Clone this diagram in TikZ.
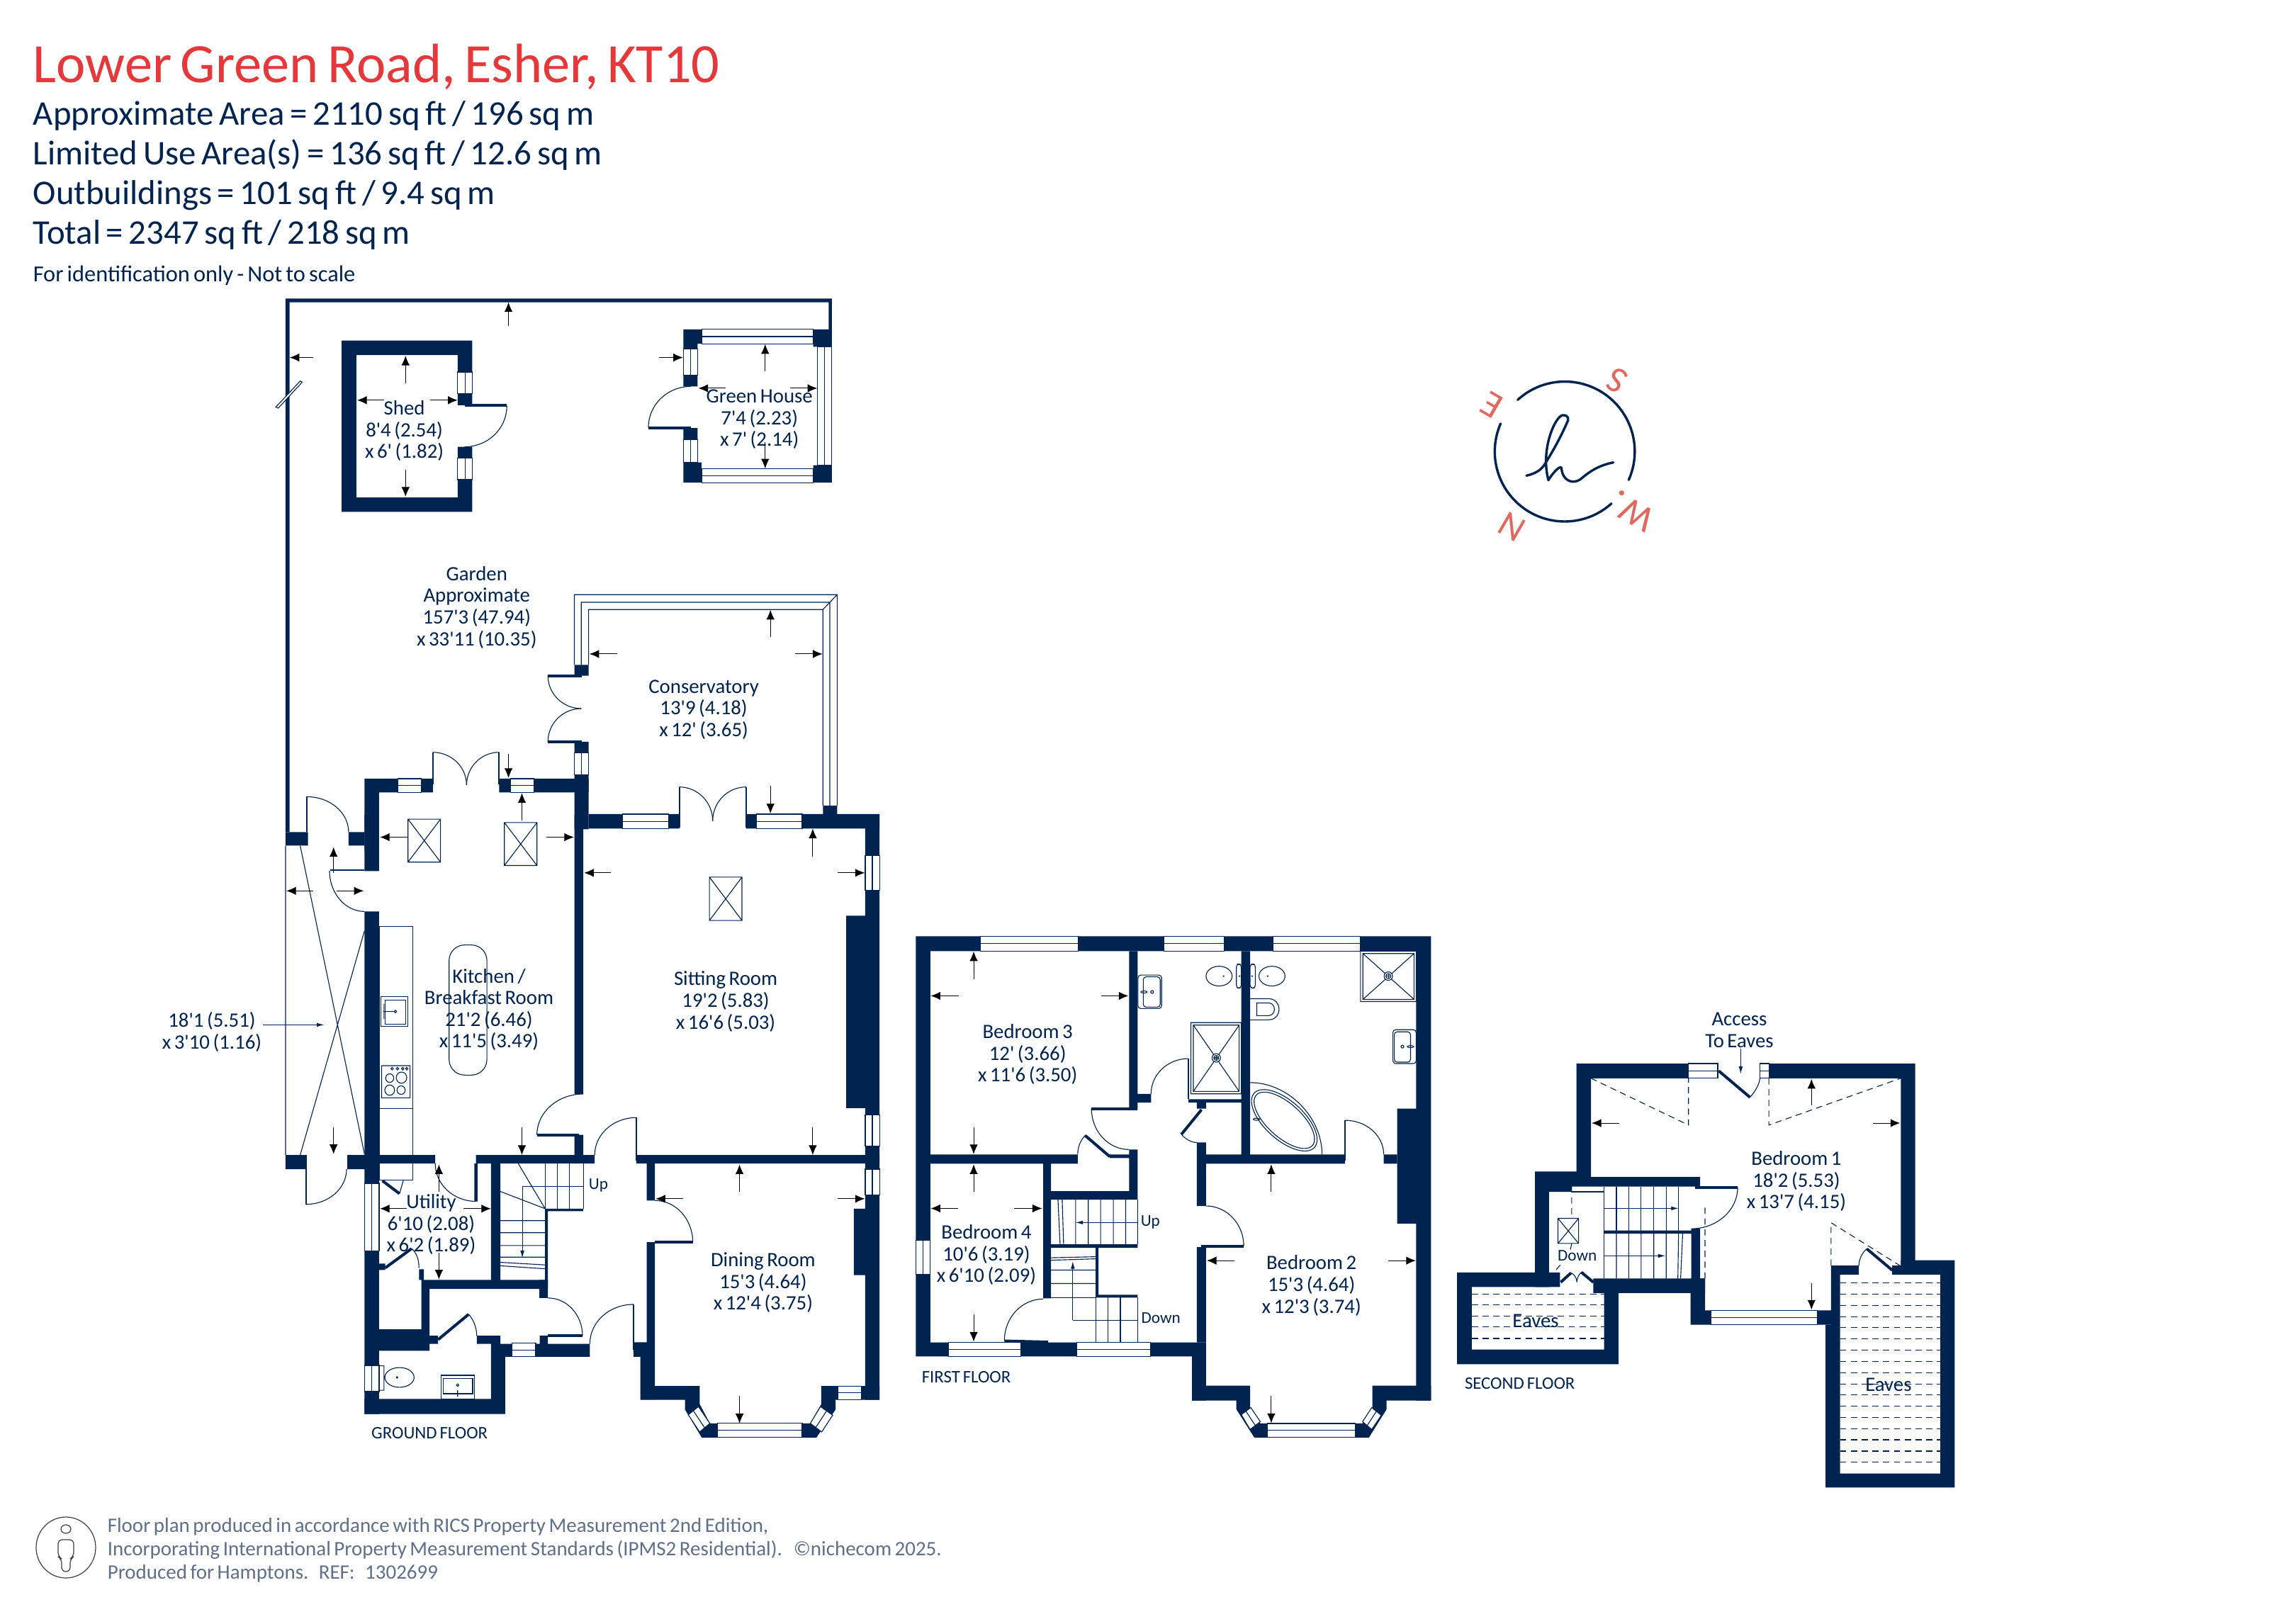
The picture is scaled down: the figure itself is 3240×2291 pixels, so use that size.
\documentclass[tikz,border=0pt]{standalone}
\usepackage{fontspec}
\usetikzlibrary{arrows.meta}
\newfontfamily\pts[WordSpace=0.7]{Carlito}
\definecolor{navy}{HTML}{00234F}
\definecolor{titlered}{HTML}{E5383B}
\definecolor{coral}{HTML}{E0695F}
\definecolor{foot}{HTML}{5F7088}
\tikzset{
 wall/.style={fill=navy,draw=none},
 ln/.style={draw=navy,line width=.28pt},
 door/.style={draw=navy,line width=1pt},
 win/.style={draw=navy,line width=.28pt,fill=white},
 dsh/.style={draw=navy,line width=.28pt,dash pattern=on 2.2pt off 1.6pt},
 dim/.style={draw=black,line width=.25pt,-{Latex[length=3.4pt,width=2.9pt]}},
 flow/.style={draw=navy,line width=.25pt,-{Latex[length=2.6pt,width=1.4pt]}},
 lbl/.style={font=\pts\fontsize{7.2}{7.65}\selectfont,align=center,inner sep=0pt,text=navy,yshift=-.4pt},
 fix/.style={font=\pts\fontsize{5.8}{7}\selectfont,inner sep=0pt,text=navy},
 caps/.style={font=\pts\fontsize{6.2}{7}\selectfont,inner sep=0pt,text=navy},
 head/.style={font=\pts\fontsize{12.2}{14}\selectfont,align=left,inner sep=0pt,text=navy,anchor=north west},
 logo/.style={draw=navy,line width=.85pt,line cap=round,line join=round},
 z1/.style={shift={(380,400)},x=.14351pt,y=-.12755pt},
 z2/.style={shift={(380,1150)},x=.14351pt,y=-.15152pt},
 z3/.style={shift={(1280,1300)},x=.12438pt,y=-.12438pt},
 z4/.style={shift={(2040,1400)},x=.12118pt,y=-.11798pt},
 z5/.style={shift={(2060,500)},x=.08333pt,y=-.08333pt},
}
\newcommand{\arr}[4]{\draw[dim] (#1,#2) -- (#3,#4);}
\newcommand{\qh}[4]{\pgfmathsetmacro\qax{#1+.552*(#3-#1)}\pgfmathsetmacro\qby{#4-.552*(#4-#2)}\draw[ln] (#1,#2) .. controls (\qax,#2) and (#3,\qby) .. (#3,#4);}
\newcommand{\wh}[4]{\draw[win] (#1,#2) rectangle (#3,#4);\pgfmathsetmacro\qm{(#2+#4)/2}\draw[ln] (#1,\qm) -- (#3,\qm);}
\newcommand{\wv}[4]{\draw[win] (#1,#2) rectangle (#3,#4);\pgfmathsetmacro\qm{(#1+#3)/2}\draw[ln] (\qm,#2) -- (\qm,#4);}
\newcommand{\sky}[4]{\draw[ln] (#1,#2) rectangle (#3,#4) (#1,#2) -- (#3,#4) (#1,#4) -- (#3,#2);}
\begin{document}
\begin{tikzpicture}[x=.25pt,y=-.25pt]
\useasboundingbox (0,0) rectangle (3240,2291);
\fill[white] (0,0) rectangle (3240,2291);
% header
\node[anchor=west,inner sep=0pt,text=titlered,font=\pts\fontsize{19.6}{22}\selectfont] (title) at (46,94) {Lower Green Road, Esher, KT10};
\node[head] (areas) at (46,142) {Approximate Area = 2110 sq ft / 196 sq m\\Limited Use Area(s) = 136 sq ft / 12.6 sq m\\Outbuildings = 101 sq ft / 9.4 sq m\\Total = 2347 sq ft / 218 sq m};
\node[anchor=west,inner sep=0pt,text=navy,font=\pts\fontsize{8.1}{9}\selectfont] (idonly) at (46,389) {For identification only - Not to scale};
% ---------------- outbuildings, garden, conservatory
\begin{scope}[z1]
\fill[wall] (40,42) rectangle (1383,52) (40,42) rectangle (50,1518) (1375,42) rectangle (1383,128);
\draw[win] (16,342) -- (76,270) -- (81,273) -- (22,345) -- cycle;
\arr{588}{118}{588}{52} \arr{108}{205}{50}{205}
% shed
\fill[wall] (178,158) rectangle (499,198) (178,158) rectangle (214,632) (178,592) rectangle (499,632) (463,158) rectangle (499,337) (463,452) rectangle (499,632);
\wv{463}{245}{499}{305} \wv{463}{483}{499}{543}
\draw[door] (480,337) -- (584,337);
\qh{480}{452}{584}{339}
\node[lbl] (shed) at (332,405) {Shed\\8'4 (2.54)\\x 6' (1.82)};
\arr{335}{277}{335}{200} \arr{335}{515}{335}{590} \arr{282}{323}{216}{323} \arr{395}{323}{463}{323}
% green house
\wh{1063}{127}{1337}{167} \wh{1063}{513}{1337}{551} \wv{1348}{175}{1383}{503} \wv{1018}{182}{1053}{253} \wv{1018}{433}{1053}{495}
\fill[wall] (1018,127) rectangle (1063,167) (1018,127) rectangle (1053,182) (1337,127) rectangle (1383,175) (1018,495) rectangle (1063,551) (1337,503) rectangle (1383,551) (1018,253) rectangle (1053,285) (1018,400) rectangle (1053,433);
\draw[door] (932,400) -- (1036,400);
\qh{1036}{285}{932}{398}
\node[lbl] (greenhouse) at (1205,373) {Green House\\7'4 (2.23)\\x 7' (2.14)};
\arr{1219}{244}{1219}{168} \arr{1219}{440}{1219}{512} \arr{1122}{290}{1055}{290} \arr{1280}{290}{1347}{290} \arr{958}{205}{1017}{205}
\node[lbl] (garden) at (510,893) {Garden\\Approximate\\157'3 (47.94)\\x 33'11 (10.35)};
% conservatory
\draw[ln] (750,1055) -- (750,861) -- (1396,861) -- (1396,1445) (767,1055) -- (767,882) -- (1378,882) -- (1378,1445) (785,1055) -- (785,902) -- (1361,902) -- (1361,1445) (1361,902) -- (1396,861);
\fill[wall] (750,1055) rectangle (785,1085) (750,1268) rectangle (785,1298) (1361,1445) rectangle (1396,1468) (750,1360) rectangle (785,1510);
\draw[door] (685,1085) -- (768,1085) (685,1268) -- (768,1268);
\wv{750}{1298}{785}{1360}
\qh{767}{1176}{685}{1085} \qh{767}{1176}{685}{1268}
\node[lbl] (conservatory) at (1068,1176) {Conservatory\\13'9 (4.18)\\x 12' (3.65)};
\arr{1232}{978}{1232}{903} \arr{855}{1025}{787}{1025} \arr{1292}{1025}{1360}{1025} \arr{1232}{1390}{1232}{1466}
% sitting room top wall
\fill[wall] (785,1468) rectangle (1008,1508) (1172,1468) rectangle (1500,1508);
\wh{868}{1468}{982}{1508} \wh{1198}{1468}{1310}{1508}
\draw[ln,line width=.5pt] (1008,1393) -- (1008,1505) (1172,1393) -- (1172,1505);
\qh{1008}{1393}{1090}{1487} \qh{1172}{1393}{1090}{1487}
% kitchen top wall
\fill[wall] (234,1370) rectangle (402,1408) (565,1370) rectangle (785,1408) (234,1370) rectangle (270,1568);
\wh{316}{1370}{373}{1408} \wh{593}{1370}{651}{1408}
\draw[ln,line width=.5pt] (402,1297) -- (402,1385) (565,1297) -- (565,1385);
\qh{402}{1297}{485}{1388} \qh{565}{1297}{485}{1388}
\arr{588}{1302}{588}{1368} \arr{621}{1485}{621}{1410}
% passage door
\fill[wall] (40,1518) rectangle (95,1555) (195,1518) rectangle (234,1555);
\draw[ln,line width=.5pt] (93,1420) -- (93,1518);
\qh{93}{1420}{195}{1518}
\end{scope}
% ---------------- ground floor
\begin{scope}[z2]
\draw[ln] (40,72) -- (40,792) (76,72) -- (234,790) (234,270) -- (76,792);
\arr{108}{177}{42}{177} \arr{165}{177}{232}{177} \arr{158}{135}{158}{75} \arr{158}{727}{158}{790}
\draw[flow,draw=navy] (-15,489) -- (135,489);
\draw[door,line width=.5pt] (150,129) -- (234,129);
\qh{234}{225}{148}{130}
\fill[wall] (234,0) rectangle (270,131) (234,225) rectangle (270,1395) (40,792) rectangle (90,825) (192,792) rectangle (234,825);
\draw[ln,line width=.5pt] (90,792) -- (90,907);
\qh{90}{907}{190}{825}
% kitchen fittings
\draw[ln] (270,260) rectangle (353,684) (270,684) rectangle (353,850);
\draw[ln] (274,423) rectangle (341,493) (285,432) rectangle (335,488);
\draw[ln] (280,458) -- (308,458) (310,458) circle[radius=3] (282,440) -- (282,475);
\draw[ln] (276,584) rectangle (346,659) (296,613) circle[radius=10] (325,612) circle[radius=13] (296,641) circle[radius=12] (324,641) circle[radius=10];
\draw[ln] (302,591) circle[radius=3] (315,591) circle[radius=3] (328,591) circle[radius=3] (338,591) circle[radius=3];
\draw[ln,rounded corners=5.5pt] (442,303) rectangle (535,606);
\sky{341}{10}{421}{110} \sky{578}{18}{658}{118} \sky{1082}{145}{1162}{246}
\node[lbl] (kitchen) at (540,451) {Kitchen /\\Breakfast Room\\21'2 (6.46)\\x 11'5 (3.49)};
\arr{340}{52}{272}{52} \arr{681}{52}{749}{52} \arr{621}{727}{621}{792}
% main walls
\fill[wall] (750,0) rectangle (772,650) (750,745) rectangle (772,792) (234,792) rectangle (408,812) (508,792) rectangle (800,812) (902,792) rectangle (1500,812);
\draw[door] (658,745) -- (762,745);
\qh{772}{650}{658}{745}
\draw[ln,line width=.5pt] (902,705) -- (902,805);
\qh{902}{705}{800}{792}
\fill[wall] (1465,0) rectangle (1500,1362) (1418,235) rectangle (1500,683) (1437,917) rectangle (1500,1072);
\wv{1465}{95}{1500}{175} \wv{1465}{698}{1500}{772} \wv{1465}{825}{1500}{885}
\node[lbl] (sitting) at (1122,432) {Sitting Room\\19'2 (5.83)\\x 16'6 (5.03)};
\arr{840}{135}{774}{135} \arr{1397}{135}{1464}{135} \arr{1336}{97}{1336}{32} \arr{1336}{727}{1336}{792}
% dining
\fill[wall] (928,812) rectangle (948,898) (928,995) rectangle (948,1240) (895,1228) rectangle (948,1262) (912,1262) rectangle (948,1362);
\draw[door] (948,995) -- (1041,995);
\qh{948}{898}{1041}{995}
\fill[wall] (912,1362) -- (1022,1362) -- (1022,1385) -- (1063,1450) -- (1102,1450) -- (1102,1417) -- (1083,1417) -- (1058,1372) -- (1058,1330) -- (948,1330) -- (948,1362) -- cycle;
\fill[wall] (1500,1362) -- (1392,1362) -- (1392,1385) -- (1345,1450) -- (1310,1450) -- (1310,1417) -- (1330,1417) -- (1357,1372) -- (1357,1330) -- (1500,1330) -- cycle;
\draw[win] (1030,1397) -- (1055,1378) -- (1083,1417) -- (1058,1437) -- cycle;
\draw[ln] (1042,1387) -- (1070,1427);
\draw[win] (1355,1378) -- (1385,1398) -- (1358,1437) -- (1330,1417) -- cycle;
\draw[ln] (1370,1388) -- (1343,1427);
\wh{1102}{1417}{1310}{1450} \wh{1398}{1330}{1455}{1362}
\node[lbl] (dining) at (1214,1087) {Dining Room\\15'3 (4.64)\\x 12'4 (3.75)};
\arr{1156}{877}{1156}{814} \arr{1017}{894}{950}{894} \arr{1397}{894}{1464}{894} \arr{1156}{1353}{1156}{1417}
% utility
\fill[wall] (545,812) rectangle (568,1083) (504,812) rectangle (512,900) (374,1083) rectangle (685,1104) (374,1083) rectangle (394,1248) (270,1198) rectangle (394,1248) (394,1213) rectangle (415,1232) (270,1045) rectangle (285,1060) (368,1058) rectangle (380,1083);
\qh{508}{900}{408}{812}
\wv{234}{858}{270}{1015}
\node[lbl] (utility) at (398,951) {Utility\\6'10 (2.08)\\x 6'2 (1.89)};
\arr{417}{878}{417}{814} \arr{417}{1020}{417}{1082} \arr{338}{917}{272}{917} \arr{477}{917}{545}{917}
\draw[door] (278,852) -- (320,882);
\draw[ln] (320,882) -- (330,850);
\draw[door] (285,1055) -- (350,1010);
\draw[ln] (350,1010) .. controls (362,1020) and (368,1035) .. (368,1055);
% stairs
\fill[wall] (678,917) rectangle (772,923) (678,917) rectangle (685,1104) (664,1083) rectangle (685,1125);
\draw[ln] (678,812) -- (678,917) (708,812) -- (708,917) (738,812) -- (738,917) (772,812) -- (772,917);
\draw[ln] (612,812) -- (678,917) (568,877) -- (678,917);
\draw[ln] (568,945) -- (678,945) (568,973) -- (678,973) (568,1003) -- (678,1003) (568,1030) -- (678,1030) (568,1042) -- (678,1048) (568,1050) -- (678,1057);
\draw[ln] (772,865) -- (622,865);
\draw[flow] (622,865) -- (622,1032);
\node[fix] (upg) at (809,862) {Up};
% hall, WC
\draw[door] (685,1213) -- (770,1213);
\qh{685}{1125}{770}{1213}
\fill[wall] (510,1213) rectangle (568,1232) (545,1232) rectangle (580,1395) (234,1360) rectangle (580,1395) (545,1232) rectangle (597,1262) (655,1232) rectangle (788,1262) (665,1213) rectangle (685,1232);
\wh{597}{1230}{655}{1262} \wv{234}{1282}{270}{1343}
\draw[door] (415,1222) -- (490,1163);
\draw[ln] (490,1163) .. controls (502,1175) and (510,1195) .. (510,1213);
\draw[ln,line width=.5pt] (895,1140) -- (895,1245);
\qh{895}{1140}{788}{1232}
\draw[ln] (270,1283) rectangle (282,1340) (320,1310) ellipse[x radius=36,y radius=23];
\fill[navy] (314,1310) circle[radius=3];
\draw[ln] (423,1305) rectangle (505,1360) (427,1313) rectangle (500,1348);
\draw[ln] (463,1328) circle[radius=3] (463,1340) -- (463,1355);
\node[caps] (ground) at (394,1440) {GROUND FLOOR};
\end{scope}
\node[lbl] (passage) at (299,1455) {18'1 (5.51)\\x 3'10 (1.16)};
% ---------------- first floor
\begin{scope}[z3]
\fill[wall] (25,43) rectangle (1486,85) (25,43) rectangle (66,1235) (25,1195) rectangle (848,1235) (1444,43) rectangle (1486,1360) (1390,532) rectangle (1486,858) (808,1195) rectangle (848,1360);
\fill[wall] (808,1360) -- (934,1360) -- (934,1385) -- (985,1465) -- (1022,1465) -- (1022,1425) -- (1002,1425) -- (973,1380) -- (973,1318) -- (848,1318) -- (808,1318) -- cycle;
\fill[wall] (1486,1360) -- (1360,1360) -- (1360,1385) -- (1310,1465) -- (1272,1465) -- (1272,1425) -- (1292,1425) -- (1320,1380) -- (1320,1318) -- (1486,1318) -- cycle;
\draw[win] (948,1400) -- (975,1380) -- (1002,1420) -- (973,1442) -- cycle;
\draw[ln] (961,1390) -- (988,1431);
\draw[win] (1318,1380) -- (1345,1402) -- (1318,1442) -- (1292,1420) -- cycle;
\draw[ln] (1331,1391) -- (1305,1431);
\wh{208}{43}{486}{85} \wh{729}{43}{899}{85} \wh{1038}{43}{1285}{85} \wv{25}{905}{66}{1002} \wh{118}{1195}{322}{1235} \wh{482}{1195}{690}{1235} \wh{1022}{1425}{1272}{1465}
% interior walls
\fill[wall] (630,85) rectangle (654,532) (948,85) rectangle (973,662) (66,662) rectangle (484,688) (630,648) rectangle (654,790) (386,672) rectangle (408,1070) (386,766) rectangle (654,790) (575,662) rectangle (630,672) (654,490) rectangle (692,515) (798,505) rectangle (948,515) (822,515) rectangle (848,532) (822,628) rectangle (848,808) (848,662) rectangle (1242,688) (1352,662) rectangle (1390,688) (822,925) rectangle (848,1195) (408,917) rectangle (654,927) (535,927) rectangle (543,1068) (535,1060) rectangle (654,1068);
\draw[door] (523,532) -- (654,532);
\qh{630}{648}{523}{532}
\draw[door] (505,608) -- (575,668);
\draw[ln] (505,608) .. controls (492,622) and (484,640) .. (484,662);
\draw[ln,line width=.5pt] (798,390) -- (798,505);
\qh{798}{390}{692}{490}
\draw[door] (835,535) -- (778,605);
\draw[ln] (778,605) .. controls (790,618) and (805,628) .. (822,628);
\draw[ln,line width=.5pt] (1242,565) -- (1242,680);
\qh{1242}{565}{1352}{662}
\draw[door] (835,923) -- (955,923);
\qh{848}{808}{955}{922}
\draw[door] (276,1191) -- (400,1194);
\qh{386}{1072}{276}{1190}
% stairs
\draw[ln] (428,790) -- (434,917) (440,790) -- (444,917) (478,790) -- (478,917) (514,790) -- (514,917) (549,790) -- (549,917) (585,790) -- (585,917) (620,790) -- (620,917) (654,790) -- (654,917);
\draw[ln] (654,855) -- (510,855);
\draw[flow] (510,855) -- (478,855);
\draw[ln] (408,955) -- (535,952) (408,962) -- (535,958) (408,990) -- (535,990) (408,1028) -- (535,1028) (408,1068) -- (535,1068);
\draw[ln] (535,1068) -- (535,1195) (570,1068) -- (570,1195) (605,1068) -- (605,1195) (654,1068) -- (654,1195);
\draw[ln] (654,1132) -- (470,1132);
\draw[flow] (470,1132) -- (470,965);
\node[fix] (upf) at (690,854) {Up};
\node[fix] (downf) at (720,1126) {Down};
% fittings
\draw[ln,rounded corners=1pt] (655,153) rectangle (722,248) (670,158) rectangle (718,244);
\draw[ln] (672,201) ellipse[x radius=9,y radius=3] (695,201) circle[radius=4];
\draw[ln] (885,156) ellipse[x radius=37,y radius=28] (1035,156) ellipse[x radius=37,y radius=28];
\draw[ln,fill=white,rounded corners=1pt] (934,122) rectangle (948,190) (973,122) rectangle (988,190);
\fill[navy] (898,156) circle[radius=2.5] (943,156) circle[radius=2.5] (979,156) circle[radius=2.5] (1023,156) circle[radius=2.5];
\draw[ln] (973,220) -- (1025,220) .. controls (1045,220) and (1055,235) .. (1055,250) .. controls (1055,265) and (1045,280) .. (1025,280) -- (973,280);
\draw[ln] (992,232) -- (1025,232) .. controls (1035,232) and (1042,240) .. (1042,250) .. controls (1042,260) and (1035,268) .. (1025,268) -- (992,268) -- cycle;
\draw[ln] (805,288) rectangle (948,490) (812,295) rectangle (942,483) (812,295) -- (942,483) (812,483) -- (942,295);
\draw[ln,fill=white] (877,388) circle[radius=12] (877,388) circle[radius=7];
\draw[ln] (870,388) -- (884,388) (877,381) -- (877,395);
\draw[ln] (1286,85) rectangle (1444,228) (1293,92) rectangle (1438,222) (1293,92) -- (1438,222) (1293,222) -- (1438,92);
\draw[ln,fill=white] (1365,156) circle[radius=12] (1365,156) circle[radius=7];
\draw[ln] (1358,156) -- (1372,156) (1365,149) -- (1365,163);
\draw[ln,rounded corners=1pt] (1444,308) rectangle (1378,404) (1382,314) rectangle (1428,400);
\draw[ln] (1428,356) ellipse[x radius=9,y radius=3] (1405,356) circle[radius=4];
\draw[ln] (973,458) .. controls (1080,458) and (1177,555) .. (1177,662);
\draw[ln] plot[domain=0:360,samples=73,smooth cycle] ({1070+115*cos(\x)*cos(42)-55*sin(\x)*sin(42)},{565+115*cos(\x)*sin(42)+55*sin(\x)*cos(42)});
\draw[ln] plot[domain=0:360,samples=73,smooth cycle] ({1070+107*cos(\x)*cos(42)-48*sin(\x)*sin(42)},{565+107*cos(\x)*sin(42)+48*sin(\x)*cos(42)});
\draw[ln] (991,562) ellipse[x radius=9,y radius=3];
\node[lbl] (bed3) at (342,375) {Bedroom 3\\12' (3.66)\\x 11'6 (3.50)};
\node[lbl] (bed4) at (225,944) {Bedroom 4\\10'6 (3.19)\\x 6'10 (2.09)};
\node[lbl] (bed2) at (1147,1031) {Bedroom 2\\15'3 (4.64)\\x 12'3 (3.74)};
\node[caps] (first) at (168,1294) {FIRST FLOOR};
\arr{189}{165}{189}{86} \arr{146}{212}{67}{212} \arr{550}{212}{628}{212} \arr{189}{585}{189}{661}
\arr{189}{767}{189}{690} \arr{145}{815}{67}{815} \arr{304}{815}{383}{815} \arr{189}{1116}{189}{1193}
\arr{1033}{767}{1033}{690} \arr{928}{963}{850}{963} \arr{1365}{963}{1443}{963} \arr{1033}{1347}{1033}{1424}
\end{scope}
% ---------------- second floor
\begin{scope}[z4]
\fill[wall] (381,214) rectangle (707,258) (941,214) rectangle (1367,258) (1325,214) rectangle (1367,845) (381,214) rectangle (423,582) (260,537) rectangle (423,582) (260,537) rectangle (301,882) (260,582) rectangle (367,598) (423,553) rectangle (741,582) (715,708) rectangle (741,900) (461,713) rectangle (715,723) (741,857) rectangle (755,900);
\fill[wall] (33,839) rectangle (333,882) (33,839) rectangle (76,1113) (33,1069) rectangle (503,1113) (461,857) rectangle (503,1113) (430,857) rectangle (755,900) (713,857) rectangle (755,995) (713,952) rectangle (1122,995);
\fill[wall] (1122,818) rectangle (1148,995) (1122,818) rectangle (1203,845) (1300,818) rectangle (1367,845) (1106,995) rectangle (1148,1482) (1106,1440) rectangle (1482,1482) (1440,802) rectangle (1482,1482) (1325,802) rectangle (1482,845);
\wh{707}{214}{792}{258} \wh{915}{214}{941}{258} \wh{772}{952}{1082}{995}
\draw[door] (795,236) -- (886,315);
\draw[ln] (886,315) .. controls (902,295) and (912,280) .. (915,258);
\draw[door] (727,585) -- (850,585);
\qh{715}{708}{850}{585}
\draw[door] (1226,768) -- (1300,832);
\draw[ln] (1226,768) .. controls (1212,780) and (1203,800) .. (1203,818);
\draw[door] (335,868) -- (365,840) (430,868) -- (395,838);
\draw[ln] (365,840) .. controls (375,845) and (382,855) .. (382,868) (395,838) .. controls (388,845) and (382,855) .. (382,868);
% stairs
\draw[ln] (461,582) -- (461,857) (497,582) -- (497,713) (533,582) -- (533,713) (569,582) -- (569,713) (606,582) -- (606,713) (642,582) -- (642,713) (678,582) -- (678,713);
\draw[ln] (497,723) -- (497,857) (533,723) -- (533,857) (569,723) -- (569,857) (606,723) -- (606,857) (642,723) -- (642,857) (678,723) -- (676,857) (690,723) -- (684,857);
\draw[flow] (461,647) -- (678,647);
\draw[flow] (461,789) -- (640,789);
\draw[ln,line width=.6pt] (367,597) -- (461,597);
\sky{327}{677}{387}{752}
% dashed
\draw[dsh] (423,258) -- (707,398) -- (707,258) (941,258) -- (941,398) -- (1325,258) (367,582) -- (367,677) (367,752) -- (360,785) (301,855) -- (335,815) (755,645) -- (755,857) (1122,818) -- (1122,690) -- (1322,818);
\foreach \yy in {903,936,969,1002,1036} {\draw[dsh] (76,\yy) -- (461,\yy);}
\foreach \yy in {870,904,937,971,1004,1038,1071,1105,1138,1172,1205,1239,1272,1306,1339,1373,1406} {\draw[dsh] (1148,\yy) -- (1440,\yy);}
\node[lbl] (access) at (855,111) {Access\\To Eaves};
\draw[flow,draw=navy] (859,170) -- (859,245);
\node[lbl] (bed1) at (1021,563) {Bedroom 1\\18'2 (5.53)\\x 13'7 (4.15)};
\node[fix] (downs) at (383,788) {Down};
\node[lbl] (eaves1) at (262,980) {Eaves};
\node[lbl] (eaves2) at (1289,1172) {Eaves};
\node[caps] (second) at (216,1171) {SECOND FLOOR};
\arr{1065}{340}{1065}{260} \arr{505}{392}{425}{392} \arr{1243}{392}{1323}{392} \arr{1065}{870}{1065}{950}
\end{scope}
% ---------------- logo
\begin{scope}[z5]
\draw[logo] (245,193) arc[start angle=-132.4,end angle=24,radius=296];
\draw[logo] (642,632) arc[start angle=48,end angle=203.6,radius=296];
\draw[logo] (282,514) .. controls (320,505) and (345,490) .. (360,465) .. controls (400,400) and (430,345) .. (458,280) .. controls (460,258) and (445,258) .. (435,258) .. controls (405,262) and (340,400) .. (375,533) .. controls (385,515) and (420,470) .. (430,480) .. controls (435,540) and (480,550) .. (510,530) .. controls (550,495) and (590,470) .. (650,458);
\fill[coral] (685,587) circle[radius=11];
\foreach \nn/\tt/\px/\py in {cs/S/665/112,ce/E/135/215,cn/N/222/730,cw/W/750/680} {\node[rotate=150,text=coral,inner sep=0pt,font=\pts\fontsize{13}{13}\selectfont] (\nn) at (\px,\py) {\tt};}
\end{scope}
% ---------------- footer
\draw[draw=black!75,line width=.3pt] (93,2184) ellipse[x radius=42,y radius=43];
\draw[draw=black!75,line width=.3pt] (93,2158) ellipse[x radius=7,y radius=6];
\draw[draw=black!75,line width=.3pt,rounded corners=1.5pt] (82,2173) -- (104,2173) -- (104,2197) -- (99,2200) -- (99,2218) -- (87,2218) -- (87,2200) -- (82,2197) -- cycle;
\node[anchor=north west,align=left,inner sep=0pt,text=foot,font=\pts\fontsize{7.24}{8.25}\selectfont] (footer) at (151,2142) {Floor plan produced in accordance with RICS Property Measurement 2nd Edition,\\Incorporating International Property Measurement Standards (IPMS2 Residential).\hspace{4pt}©nichecom 2025.\\Produced for Hamptons.\enspace REF:\enspace 1302699};
\end{tikzpicture}
\end{document}
